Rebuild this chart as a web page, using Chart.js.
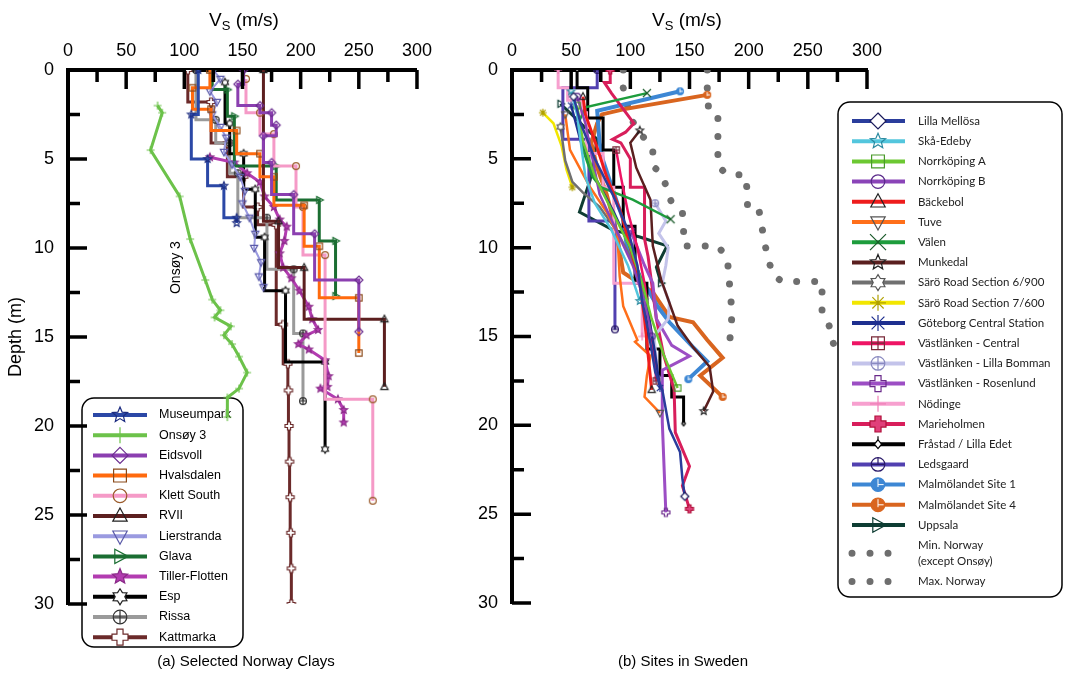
<!DOCTYPE html>
<html>
<head>
<meta charset="utf-8">
<script src="https://cdn.jsdelivr.net/npm/chart.js@4.4.1/dist/chart.umd.min.js"></script>
<style>
  body { margin: 0; background: #fff; }
  #page { position: relative; width: 1065px; height: 690px; overflow: hidden; font-family: "Liberation Sans", Arial, sans-serif; color: #000; }
  .box { position: absolute; top: 0; height: 690px; }
  #boxA { left: 0; width: 440px; }
  #boxB { left: 440px; width: 625px; }
  .vs { position: absolute; top: 9px; font-size: 19px; line-height: 22px; transform: translateX(-50%); white-space: nowrap; }
  .vs sub { font-size: 13px; vertical-align: -4px; line-height: 0; }
  .cap { position: absolute; top: 652px; font-size: 15px; transform: translateX(-50%); white-space: nowrap; }
</style>
</head>
<body>
<div id="page">
  <div class="box" id="boxA"><canvas id="norway"></canvas></div>
  <div class="box" id="boxB"><canvas id="sweden"></canvas></div>
  <div class="vs" style="left:244px">V<sub>S</sub> (m/s)</div>
  <div class="vs" style="left:687px">V<sub>S</sub> (m/s)</div>
  <div class="cap" style="left:246px">(a) Selected Norway Clays</div>
  <div class="cap" style="left:683px">(b) Sites in Sweden</div>
</div>
<script>
// ---- (a) Norway: depth (m) and Vs (m/s) ----
// stepped profiles: depth = layer tops + bottom, Vs repeats last layer
const museumparkDepth = [0, 2.5, 5.0, 6.5, 8.3, 8.6];
const museumparkVs = [112, 106, 120, 134, 145, 145];
const onsoyDepth = [2.0, 2.4, 4.5, 7.1, 9.5, 11.8, 12.9, 13.5, 13.9, 14.4, 14.9, 15.4, 16.1, 17.0, 17.9, 18.4, 19.5];
const onsoyVs = [77, 81, 71, 96, 105, 118, 124, 131, 126, 140, 134, 141, 147, 154, 147, 137, 137];
const eidsvollDepth = [0, 0.8, 2.0, 2.4, 3.1, 3.7, 5.2, 7.0, 9.2, 11.8, 14.7];
const eidsvollVs = [151, 146, 165, 175, 179, 168, 175, 194, 212, 250, 250];
const hvalsdalenDepth = [0, 1.0, 2.2, 3.4, 4.7, 6.0, 7.6, 9.9, 12.8, 15.9];
const hvalsdalenVs = [122, 107, 123, 145, 165, 177, 203, 216, 250, 250];
const klettDepth = [0.5, 2.4, 3.6, 5.4, 7.7, 10.4, 18.5, 24.2];
const klettVs = [153, 165, 177, 196, 202, 221, 262, 262];
const rviiDepth = [0, 8.5, 11.1, 14.0, 17.8];
const rviiVs = [168, 181, 203, 272, 272];
const lierstrandaDepth = [0, 0.5, 1.2, 1.8, 2.5, 3.2, 3.8, 4.6, 5.3, 6.0, 6.8, 7.5, 8.3, 9.2, 10.0, 10.8, 11.6, 12.2];
const lierstrandaVs = [125, 131, 122, 128, 124, 131, 136, 134, 141, 148, 152, 150, 156, 161, 160, 166, 164, 168];
const glavaDepth = [0, 1.1, 2.6, 5.4, 7.3, 9.6, 12.7];
const glavaVs = [124, 137, 143, 179, 216, 230, 230];
const tillerDepth = [4.9, 5.2, 5.8, 6.3, 7.1, 7.7, 8.4, 8.8, 9.6, 10.3, 11.1, 11.7, 12.4, 13.3, 14.0, 14.6, 14.9, 15.4, 15.7, 16.3, 17.2, 17.8, 17.9, 18.5, 19.1, 19.8];
const tillerVs = [122, 143, 154, 165, 169, 177, 182, 188, 186, 182, 185, 192, 199, 207, 210, 215, 205, 198, 207, 221, 224, 223, 217, 232, 237, 237];
const espDepth = [0.7, 3.0, 4.7, 6.7, 9.4, 12.4, 16.4, 21.3];
const espVs = [135, 139, 151, 161, 169, 187, 221, 221];
const rissaDepth = [0, 2.8, 4.1, 5.8, 8.3, 11.2, 14.8, 18.6];
const rissaVs = [110, 127, 139, 146, 171, 194, 202, 202];
const kattmarkaDepth = [0, 1.8, 4.1, 6.0, 7.7, 8.7, 14.3, 16.5, 18, 20, 22, 24, 26, 28, 30];
const kattmarkaVs = [103, 123, 137, 151, 163, 179, 185, 189, 189.5, 190, 190.5, 191, 191.5, 192, 192];

// ---- (b) Sweden ----
const lillaMellosaDepth = [1.5, 3, 5, 7, 9, 11, 13, 15, 17, 18, 20.2, 21.5, 23, 24];
const lillaMellosaVs = [52, 58, 70, 85, 98, 106, 110, 116, 121, 127, 133, 142, 144, 146];
const skaEdebyDepth = [1.2, 2.5, 4, 6, 7.5, 9, 11, 13];
const skaEdebyVs = [50, 55, 58, 62, 70, 84, 98, 108];
const norrkopingADepth = [2, 4, 6, 8, 10, 12, 14, 16, 17.9];
const norrkopingAVs = [55, 60, 70, 85, 100, 110, 118, 128, 140];
const norrkopingBDepth = [1.5, 3, 5, 7, 9, 11, 13, 15];
const norrkopingBVs = [55, 62, 68, 74, 88, 102, 112, 118];
const backebolDepth = [1.5, 2.5, 4, 6, 8, 10, 12, 14, 16, 18];
const backebolVs = [60, 62, 70, 80, 92, 100, 108, 112, 115, 118];
const tuveDepth = [2.5, 4.5, 6.6, 8, 9.2, 11.6, 13.3, 15.2, 15.3, 16.1, 17.2, 18.4, 19.3];
const tuveVs = [45, 49, 66, 80, 89, 91, 94, 106, 104, 117, 114, 112, 125];
const valenDepth = [1.3, 2.1, 3, 4.5, 6, 6.6, 7.3, 8.4];
const valenVs = [114, 62, 56, 60, 68, 75, 102, 134];
const munkedalDepth = [3.4, 4.1, 5.5, 7.3, 9.9, 11.8, 13.1, 14.4, 15.6, 16.7, 18.1, 19.2];
const munkedalVs = [108, 100, 105, 117, 119, 126, 133, 140, 153, 167, 170, 162];
const saro6Depth = [3.2, 5.1, 6.3, 6.9, 7.7, 9, 10.5, 12, 13];
const saro6Vs = [41, 45, 51, 60, 74, 88, 100, 108, 112];
const saro7Depth = [2.4, 3.0, 4.3, 5.6, 6.6];
const saro7Vs = [26, 35, 42, 46, 51];
const goteborgDepth = [2, 4, 6, 8, 10, 12, 14, 16, 17.9];
const goteborgVs = [50, 58, 70, 86, 100, 110, 116, 121, 125];
const vlCentralDepth = [4.5, 6, 8, 10, 12, 14, 16, 17.5];
const vlCentralVs = [88, 92, 98, 106, 112, 116, 120, 122];
const vlBommanDepth = [7.5, 8.5, 9.2, 10, 11, 12, 13.1, 14, 15, 16.3, 17.4];
const vlBommanVs = [121, 130, 124, 132, 130, 127, 133, 132, 120, 122, 123];
const vlRosenlundDepth = [9, 11, 12, 14, 15.5, 16.1, 16.9, 19.8, 24.9];
const vlRosenlundVs = [100, 112, 119, 122, 135, 150, 127, 127, 130];
const nodingeDepth = [0, 1.0, 1.7, 2.4, 4.7, 6.6, 12.0, 15.0];
const nodingeVs = [39, 47, 59, 63, 77, 86, 110, 110];
const marieholmenDepth = [0, 0.7, 0.7, 1.3, 3.0, 3.5, 3.9, 4.1, 5.0, 6.6, 6.6, 9.5, 10.5, 12, 14, 16, 18, 20.4, 22.3, 23.4, 24.7];
const marieholmenVs = [83, 83, 78, 84, 103, 96, 85, 92, 100, 100, 112, 112, 115, 118, 122, 128, 137, 138, 150, 144, 150];
const frastadDepth = [0, 1.0, 2.7, 4.5, 6.6, 8.8, 12.0, 15.7, 17.2, 18.4, 19.9];
const frastadVs = [55, 64, 77, 86, 94, 104, 114, 125, 135, 145, 145];
const ledsgaardDepth = [0, 1.0, 3.9, 8.5, 14.6];
const ledsgaardVs = [72, 43, 65, 87, 87];
const malmo1Depth = [1.2, 2.3, 4.1, 5.1, 6.3, 7.5, 8.4, 9.9, 11.6, 13.3, 14.2, 15.6, 16.4, 17.4];
const malmo1Vs = [142, 72, 74, 77, 83, 89, 94, 97, 108, 123, 133, 153, 165, 149];
const malmo4Depth = [1.4, 2.2, 2.5, 3.0, 4.1, 5.5, 7, 9, 11.4, 12.5, 13.9, 14.2, 15.2, 16.2, 17.2, 18.4];
const malmo4Vs = [165, 95, 76, 72, 67, 72, 80, 88, 94, 119, 133, 153, 165, 178, 159, 178];
const uppsalaDepth = [1.9, 3.9, 6.2, 8.0, 9.0, 9.4, 9.9, 11.1, 12.0];
const uppsalaVs = [41, 72, 66, 57, 85, 108, 131, 122, 126];
const minNorwayDepth = [0, 1.0, 2.7, 3.5, 4.5, 5.4, 5.9, 7.5, 8.0, 9.0, 9.9, 9.9, 10.6, 12.2, 13.7, 15.3];
const minNorwayVs = [94, 94, 100, 108, 119, 119, 127, 135, 144, 145, 145, 174, 182, 184, 186, 184];
const maxNorwayDepth = [0, 1.0, 2.1, 2.4, 5.4, 5.9, 5.9, 6.9, 7.9, 8.0, 9.9, 11.5, 11.9, 11.9, 13.8, 14.4, 15.5];
const maxNorwayVs = [165, 165, 166, 174, 174, 182, 197, 199, 199, 209, 214, 220, 228, 262, 262, 268, 272];

const pts = (depth, vs) => depth.map((d, i) => ({ x: vs[i], y: d }));

// marker shapes, used for plot points (as small canvases) and legend
function drawMarker(ctx, m, x, y, r) {
  ctx.save();
  ctx.translate(x, y);
  ctx.lineWidth = m.lw || 1.2;
  ctx.strokeStyle = m.stroke;
  ctx.fillStyle = m.fill || 'rgba(0,0,0,0)';
  const P = (p) => {
    ctx.beginPath();
    p.forEach(([a, b], i) => (i ? ctx.lineTo(a, b) : ctx.moveTo(a, b)));
    ctx.closePath();
    if (m.fill) ctx.fill();
    ctx.stroke();
  };
  const L = (segs) => {
    ctx.beginPath();
    segs.forEach(([a, b, c, d]) => { ctx.moveTo(a, b); ctx.lineTo(c, d); });
    ctx.stroke();
  };
  const C = (rr) => {
    ctx.beginPath();
    ctx.arc(0, 0, rr, 0, Math.PI * 2);
    if (m.fill) ctx.fill();
    ctx.stroke();
  };
  const star = (n, ro, ri) => {
    const p = [];
    for (let i = 0; i < 2 * n; i++) {
      const a = -Math.PI / 2 + i * Math.PI / n;
      const rr = i % 2 ? ri : ro;
      p.push([rr * Math.cos(a), rr * Math.sin(a)]);
    }
    P(p);
  };
  const q = r * 0.8;
  switch (m.shape) {
    case 'star': star(5, r, r * 0.45); break;
    case 'star6': star(6, r, r * 0.6); break;
    case 'diamond': P([[0, -r], [r, 0], [0, r], [-r, 0]]); break;
    case 'square': P([[-q, -q], [q, -q], [q, q], [-q, q]]); break;
    case 'circle': C(r * 0.85); break;
    case 'triUp': P([[0, -r], [r * 0.9, r * 0.65], [-r * 0.9, r * 0.65]]); break;
    case 'triDown': P([[0, r], [r * 0.9, -r * 0.65], [-r * 0.9, -r * 0.65]]); break;
    case 'triRight': P([[r, 0], [-r * 0.65, -r * 0.9], [-r * 0.65, r * 0.9]]); break;
    case 'plus': L([[0, -r, 0, r], [-r, 0, r, 0]]); break;
    case 'vbar': L([[0, -r, 0, r]]); break;
    case 'cross': L([[-r, -r, r, r], [-r, r, r, -r]]); break;
    case 'asterisk': L([[-q, -q, q, q], [-q, q, q, -q], [0, -r, 0, r]]); break;
    case 'burst': {
      const s = [];
      for (let i = 0; i < 8; i++) { const a = i * Math.PI / 4; s.push([0, 0, r * Math.cos(a), r * Math.sin(a)]); }
      L(s);
      break;
    }
    case 'circlePlus': C(r * 0.85); L([[0, -r * 0.85, 0, r * 0.85], [-r * 0.85, 0, r * 0.85, 0]]); break;
    case 'boxPlus': P([[-q, -q], [q, -q], [q, q], [-q, q]]); L([[0, -q, 0, q], [-q, 0, q, 0]]); break;
    case 'greek': {
      const a = r * 0.38;
      P([[-a, -r], [a, -r], [a, -a], [r, -a], [r, a], [a, a], [a, r], [-a, r], [-a, a], [-r, a], [-r, -a], [-a, -a]]);
      break;
    }
    case 'circleBar': C(r * 0.85); L([[0, -r * 0.85, 0, 0], [-r * 0.85, 0, r * 0.85, 0]]); break;
    case 'smallDiamond': P([[0, -r * 0.55], [r * 0.45, 0], [0, r * 0.55], [-r * 0.45, 0]]); L([[0, -r, 0, -r * 0.55]]); break;
    case 'dotCircle':
      C(r * 0.85);
      ctx.strokeStyle = '#fff';
      ctx.lineWidth = 1;
      L([[0, -r * 0.7, 0, r * 0.3], [0, 0, r * 0.7, 0]]);
      break;
  }
  ctx.restore();
}

function markerImage(m, r) {
  const c = document.createElement('canvas');
  const s = Math.ceil(2 * r + 4);
  c.width = c.height = s;
  drawMarker(c.getContext('2d'), m, s / 2, s / 2, r);
  return c;
}

function profile(label, depth, vs, color, marker, extra) {
  return Object.assign({
    label,
    data: pts(depth, vs),
    borderColor: color,
    backgroundColor: color,
    borderWidth: 3,
    fill: false,
    tension: 0,
    marker,
    pointStyle: markerImage(marker, 4),
    pointRadius: 3,
  }, extra);
}

const step = { stepped: 'after' };
const endsOnly = (c) => (c.dataIndex === 0 || c.dataIndex === c.dataset.data.length - 1 ? 3 : 0);

const norwaySets = [
  profile('Museumpark', museumparkDepth, museumparkVs, '#2b48a6', { shape: 'star', stroke: '#1c2c80' }, step),
  profile('Onsøy 3', onsoyDepth, onsoyVs, '#6cc24a', { shape: 'plus', stroke: '#6cc24a' }),
  profile('Eidsvoll', eidsvollDepth, eidsvollVs, '#8b3fb0', { shape: 'diamond', stroke: '#6a2d8f' }, step),
  profile('Hvalsdalen', hvalsdalenDepth, hvalsdalenVs, '#ff6a0e', { shape: 'square', stroke: '#8a4a1a' }, step),
  profile('Klett South', klettDepth, klettVs, '#f59ac7', { shape: 'circle', stroke: '#9a5a2a' }, step),
  profile('RVII', rviiDepth, rviiVs, '#5c1f1f', { shape: 'triUp', stroke: '#222' }, step),
  profile('Lierstranda', lierstrandaDepth, lierstrandaVs, '#9a9ae0', { shape: 'triDown', stroke: '#5a5aa8' }, { borderWidth: 2 }),
  profile('Glava', glavaDepth, glavaVs, '#1b6e32', { shape: 'triRight', stroke: '#1b6e32' }, step),
  profile('Tiller-Flotten', tillerDepth, tillerVs, '#b23cb0', { shape: 'star', stroke: '#8a2a88', fill: '#b23cb0' }),
  profile('Esp', espDepth, espVs, '#000000', { shape: 'star6', stroke: '#222', fill: '#fff' }, step),
  profile('Rissa', rissaDepth, rissaVs, '#9a9a9a', { shape: 'circlePlus', stroke: '#333' }, step),
  profile('Kattmarka', kattmarkaDepth, kattmarkaVs, '#6b2a2a', { shape: 'greek', stroke: '#6b2a2a', fill: '#fff' }, step),
];

const swe = (o) => Object.assign({ borderWidth: 2.5, pointRadius: endsOnly }, o);
const dotted = { borderWidth: 7, borderDash: [0.01, 18], borderCapStyle: 'round', pointRadius: 0 };

const swedenSets = [
  profile('Lilla Mellösa', lillaMellosaDepth, lillaMellosaVs, '#2a3d9c', { shape: 'diamond', stroke: '#1a1a5a', fill: '#fff' }, swe()),
  profile('Skå-Edeby', skaEdebyDepth, skaEdebyVs, '#53c6dd', { shape: 'star', stroke: '#2a8aa0' }, swe()),
  profile('Norrköping A', norrkopingADepth, norrkopingAVs, '#6cc832', { shape: 'square', stroke: '#4a9a2a' }, swe()),
  profile('Norrköping B', norrkopingBDepth, norrkopingBVs, '#8a44b8', { shape: 'circle', stroke: '#5a2a8a' }, swe()),
  profile('Bäckebol', backebolDepth, backebolVs, '#ee1c1c', { shape: 'triUp', stroke: '#222' }, swe({ borderWidth: 3 })),
  profile('Tuve', tuveDepth, tuveVs, '#ff6f1a', { shape: 'triDown', stroke: '#555' }, swe()),
  profile('Välen', valenDepth, valenVs, '#1d9c3c', { shape: 'cross', stroke: '#1a5a2a' }, swe()),
  profile('Munkedal', munkedalDepth, munkedalVs, '#5a1f1f', { shape: 'star', stroke: '#222' }, swe()),
  profile('Särö Road Section 6/900', saro6Depth, saro6Vs, '#707070', { shape: 'star6', stroke: '#555', fill: '#fff' }, swe()),
  profile('Särö Road Section 7/600', saro7Depth, saro7Vs, '#f2e600', { shape: 'burst', stroke: '#b0a000' }, swe()),
  profile('Göteborg Central Station', goteborgDepth, goteborgVs, '#1e2f8f', { shape: 'asterisk', stroke: '#1e2f8f' }, swe()),
  profile('Västlänken - Central', vlCentralDepth, vlCentralVs, '#ee1464', { shape: 'boxPlus', stroke: '#7a2a3a' }, swe()),
  profile('Västlänken - Lilla Bomman', vlBommanDepth, vlBommanVs, '#c3c3ea', { shape: 'circlePlus', stroke: '#8a8ac0' }, swe({ borderWidth: 3 })),
  profile('Västlänken - Rosenlund', vlRosenlundDepth, vlRosenlundVs, '#9c4ec4', { shape: 'greek', stroke: '#6a2a8a' }, swe({ borderWidth: 3 })),
  profile('Nödinge', nodingeDepth, nodingeVs, '#f7a0cf', { shape: 'plus', stroke: '#f080b8' }, swe(Object.assign({ borderWidth: 3 }, step))),
  profile('Marieholmen', marieholmenDepth, marieholmenVs, '#d81e5b', { shape: 'greek', stroke: '#b0103a', fill: '#e0407a' }, swe({ borderWidth: 3 })),
  profile('Fråstad / Lilla Edet', frastadDepth, frastadVs, '#000000', { shape: 'smallDiamond', stroke: '#000', fill: '#fff' }, swe(Object.assign({ borderWidth: 3 }, step))),
  profile('Ledsgaard', ledsgaardDepth, ledsgaardVs, '#5140b0', { shape: 'circleBar', stroke: '#2a1a6a' }, swe(Object.assign({ borderWidth: 3 }, step))),
  profile('Malmölandet Site 1', malmo1Depth, malmo1Vs, '#3d87d4', { shape: 'dotCircle', stroke: '#3d87d4', fill: '#3d87d4' }, swe({ borderWidth: 4 })),
  profile('Malmölandet Site 4', malmo4Depth, malmo4Vs, '#d9651f', { shape: 'dotCircle', stroke: '#d9651f', fill: '#d9651f' }, swe({ borderWidth: 4 })),
  profile('Uppsala', uppsalaDepth, uppsalaVs, '#0e3d33', { shape: 'triRight', stroke: '#0e3d33' }, swe({ borderWidth: 3 })),
  profile('Min. Norway\n(except Onsøy)', minNorwayDepth, minNorwayVs, '#6e6e6e', { shape: 'circle', stroke: '#6e6e6e' }, dotted),
  profile('Max. Norway', maxNorwayDepth, maxNorwayVs, '#6e6e6e', { shape: 'circle', stroke: '#6e6e6e' }, dotted),
];

// tick marks pointing into the plot, long at labelled values
const inwardTicks = {
  id: 'inwardTicks',
  afterDatasetsDraw(chart) {
    const { ctx, chartArea: a, scales: { x, y } } = chart;
    ctx.save();
    ctx.strokeStyle = '#000';
    ctx.lineWidth = 3.5;
    ctx.beginPath();
    for (let v = 25; v <= x.max; v += 25) {
      const px = x.getPixelForValue(v);
      ctx.moveTo(px, a.top);
      ctx.lineTo(px, a.top + (v % 50 === 0 ? 19 : 12));
    }
    for (let d = 2.5; d <= y.max; d += 2.5) {
      const py = y.getPixelForValue(d);
      ctx.moveTo(a.left, py);
      ctx.lineTo(a.left + (d % 5 === 0 ? 19 : 12), py);
    }
    ctx.stroke();
    ctx.restore();
  }
};

const profileNote = {
  id: 'profileNote',
  afterDatasetsDraw(chart, args, o) {
    if (!o || !o.text) return;
    const { ctx, scales: { x, y } } = chart;
    ctx.save();
    ctx.translate(x.getPixelForValue(o.vs), y.getPixelForValue(o.depth));
    ctx.rotate(-Math.PI / 2);
    ctx.font = '14px "Liberation Sans", Arial, sans-serif';
    ctx.fillStyle = '#000';
    ctx.textAlign = 'center';
    ctx.textBaseline = 'middle';
    ctx.fillText(o.text, 0, 0);
    ctx.restore();
  }
};

function roundBox(ctx, x, y, w, h, r) {
  ctx.beginPath();
  ctx.moveTo(x + r, y);
  ctx.arcTo(x + w, y, x + w, y + h, r);
  ctx.arcTo(x + w, y + h, x, y + h, r);
  ctx.arcTo(x, y + h, x, y, r);
  ctx.arcTo(x, y, x + w, y, r);
  ctx.closePath();
}

const boxLegend = {
  id: 'boxLegend',
  beforeDatasetsDraw(chart, args, o) {
    const ctx = chart.ctx;
    ctx.save();
    roundBox(ctx, o.x, o.y, o.w, o.h, o.r);
    ctx.fillStyle = '#fff';
    ctx.fill();
    ctx.lineWidth = 1.5;
    ctx.strokeStyle = '#000';
    ctx.stroke();
    ctx.font = o.font;
    ctx.textBaseline = 'middle';
    ctx.textAlign = 'left';
    let cy = o.y0;
    chart.data.datasets.forEach((ds) => {
      const lines = ds.label.split('\n');
      const mid = cy + (lines.length - 1) * o.gap / 2;
      ctx.save();
      ctx.strokeStyle = ds.borderColor;
      if (ds.borderDash) {
        ctx.lineWidth = ds.borderWidth;
        ctx.lineCap = 'round';
        ctx.setLineDash(ds.borderDash);
        ctx.beginPath();
        ctx.moveTo(o.x0, mid);
        ctx.lineTo(o.x0 + 36.1, mid);
        ctx.stroke();
      } else {
        ctx.lineWidth = o.lw;
        ctx.beginPath();
        ctx.moveTo(o.x0, mid);
        ctx.lineTo(o.x1, mid);
        ctx.stroke();
        drawMarker(ctx, ds.marker, o.mx, mid, o.mr);
      }
      ctx.restore();
      ctx.fillStyle = o.color;
      lines.forEach((t, k) => ctx.fillText(t, o.tx, cy + k * o.gap));
      cy += o.row + (lines.length - 1) * o.gap;
    });
    ctx.restore();
  }
};

Chart.defaults.font.family = '"Liberation Sans", Arial, sans-serif';
Chart.defaults.color = '#000';

function profileOptions(yWidth, pad, depthTitle) {
  const axisBorder = { display: true, width: 4, color: '#000' };
  return {
    animation: false,
    responsive: true,
    maintainAspectRatio: false,
    events: [],
    layout: { padding: pad },
    plugins: { legend: { display: false }, tooltip: { enabled: false } },
    scales: {
      x: {
        type: 'linear', position: 'top', min: 0, max: 300,
        grid: { display: false, drawTicks: false },
        border: axisBorder,
        ticks: { stepSize: 50, padding: 8, color: '#000', font: { size: 18 } },
        afterFit: (s) => { s.height = 70; },
      },
      y: {
        type: 'linear', reverse: true, min: 0, max: 30,
        grid: { display: false, drawTicks: false },
        border: axisBorder,
        ticks: { stepSize: 5, padding: 14, color: '#000', font: { size: 18 } },
        title: { display: depthTitle, text: 'Depth (m)', color: '#000', font: { size: 18 }, padding: { top: 5, bottom: 0 } },
        afterFit: (s) => { s.width = yWidth; },
      },
    },
  };
}

const norwayOptions = profileOptions(68, { left: 0, top: 0, right: 17, bottom: 86 }, true);
norwayOptions.plugins.boxLegend = {
  x: 82, y: 398, w: 161, h: 249, r: 12, y0: 415, row: 20.2, gap: 16,
  x0: 93, x1: 147, mx: 120, mr: 8, lw: 4, tx: 159,
  font: '12.5px "Liberation Sans", Arial, sans-serif', color: '#000',
};
norwayOptions.plugins.profileNote = { text: 'Onsøy 3', vs: 93, depth: 11.1 };

const swedenOptions = profileOptions(72, { left: 0, top: 0, right: 198, bottom: 87 }, false);
swedenOptions.plugins.boxLegend = {
  x: 398, y: 102, w: 224, h: 495, r: 12, y0: 121, row: 20.2, gap: 16,
  x0: 412, x1: 465, mx: 438, mr: 8, lw: 4, tx: 478,
  font: '11.5px Lato, "Open Sans", sans-serif', color: '#222',
};

new Chart(document.getElementById('norway'), {
  type: 'line',
  data: { datasets: norwaySets },
  options: norwayOptions,
  plugins: [boxLegend, inwardTicks, profileNote],
});

new Chart(document.getElementById('sweden'), {
  type: 'line',
  data: { datasets: swedenSets },
  options: swedenOptions,
  plugins: [boxLegend, inwardTicks],
});
</script>
</body>
</html>
